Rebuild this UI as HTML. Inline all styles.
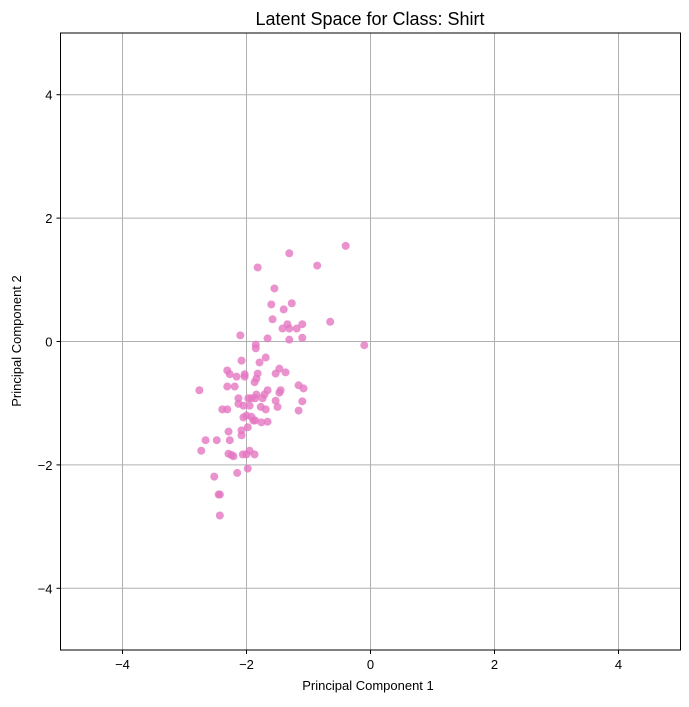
<!DOCTYPE html>
<html><head><meta charset="utf-8">
<style>
body{margin:0;background:#fff;}
svg text{font-family:"Liberation Sans","DejaVu Sans",sans-serif;fill:#000;}
</style></head>
<body>
<svg id="chart" width="689" height="702" xmlns="http://www.w3.org/2000/svg">
<g id="grid"></g>
<g id="pts"></g>
<rect x="60.5" y="33" width="620" height="617" fill="none" stroke="#000" stroke-width="1"/>
<g id="ticks"></g>
<text x="370" y="25" font-size="18" text-anchor="middle">Latent Space for Class: Shirt</text>
<text x="368" y="690" font-size="13" text-anchor="middle">Principal Component 1</text>
<text x="21" y="341" font-size="13" text-anchor="middle" transform="rotate(-90 21 341)">Principal Component 2</text>
</svg>
<script>
const xTicks=[-4,-2,0,2,4];
const yTicks=[-4,-2,0,2,4];
const xs=[-0.40,-1.31,-0.86,-1.82,-1.55,-1.60,-1.27,-1.40,-1.58,-1.34,-1.42,-1.31,-1.19,-1.10,-0.65,-2.10,-1.66,-1.31,-1.10,-0.10,-1.85,-1.85,-2.08,-1.69,-1.79,-2.31,-1.47,-1.37,-1.53,-2.27,-2.03,-2.16,-2.03,-1.82,-1.84,-1.87,-2.31,-2.19,-2.76,-1.66,-1.71,-1.45,-1.47,-1.16,-1.08,-1.84,-1.92,-2.13,-1.97,-1.86,-1.74,-1.53,-1.10,-2.13,-2.05,-1.95,-1.77,-1.69,-1.50,-1.16,-2.39,-2.31,-2.00,-2.05,-1.92,-1.89,-1.86,-1.76,-1.66,-1.98,-2.29,-2.08,-2.08,-2.27,-2.66,-2.48,-2.73,-2.29,-2.24,-2.21,-2.06,-2.00,-1.95,-1.87,-1.98,-2.15,-2.52,-2.45,-2.43,-2.43];
const ys=[1.55,1.43,1.23,1.20,0.86,0.60,0.62,0.52,0.36,0.28,0.21,0.21,0.21,0.28,0.32,0.10,0.05,0.03,0.06,-0.06,-0.05,-0.11,-0.31,-0.26,-0.34,-0.47,-0.44,-0.50,-0.52,-0.53,-0.57,-0.57,-0.53,-0.52,-0.60,-0.66,-0.73,-0.73,-0.79,-0.79,-0.86,-0.79,-0.83,-0.71,-0.76,-0.86,-0.92,-0.92,-0.92,-0.92,-0.92,-0.96,-0.97,-1.01,-1.04,-1.04,-1.06,-1.10,-1.06,-1.12,-1.10,-1.10,-1.20,-1.23,-1.22,-1.28,-1.28,-1.31,-1.30,-1.39,-1.46,-1.44,-1.52,-1.60,-1.60,-1.60,-1.77,-1.82,-1.84,-1.86,-1.83,-1.83,-1.77,-1.83,-2.06,-2.13,-2.19,-2.48,-2.48,-2.82];
const NS="http://www.w3.org/2000/svg";
const X0=60.5,X1=680.5,Y0=650,Y1=33;
function sx(v){return X0+(v+5)/10*(X1-X0);}
function sy(v){return Y0-(v+5)/10*(Y0-Y1);}
const grid=document.getElementById('grid'),ticks=document.getElementById('ticks'),pts=document.getElementById('pts');
function mk(tag,attrs,parent){const e=document.createElementNS(NS,tag);for(const k in attrs)e.setAttribute(k,attrs[k]);parent.appendChild(e);return e;}
xTicks.forEach(t=>{
  const x=sx(t);
  const g=mk('line',{x1:x,x2:x,y1:Y1,y2:Y0,stroke:'#b0b0b0','stroke-width':1},grid);
  
  
  mk('line',{x1:x,x2:x,y1:Y0,y2:Y0+4,stroke:'#000'},ticks);
  const tx=mk('text',{x:x,y:Y0+19,'font-size':13,'text-anchor':'middle'},ticks);
  tx.textContent=t<0?'\u2212'+Math.abs(t):String(t);
  
  
});
yTicks.forEach(t=>{
  const y=sy(t);
  const g=mk('line',{x1:X0,x2:X1,y1:y,y2:y,stroke:'#b0b0b0','stroke-width':1},grid);
  
  
  mk('line',{x1:X0-4,x2:X0,y1:y,y2:y,stroke:'#000'},ticks);
  const tx=mk('text',{x:X0-8,y:y+5,'font-size':13,'text-anchor':'end'},ticks);
  tx.textContent=t<0?'\u2212'+Math.abs(t):String(t);
  
  
});
xs.forEach((v,i)=>{
  const c=mk('circle',{cx:sx(v),cy:sy(ys[i]),r:4,fill:'#e377c2','fill-opacity':0.8},pts);
  
  
});
</script>
</body></html>
